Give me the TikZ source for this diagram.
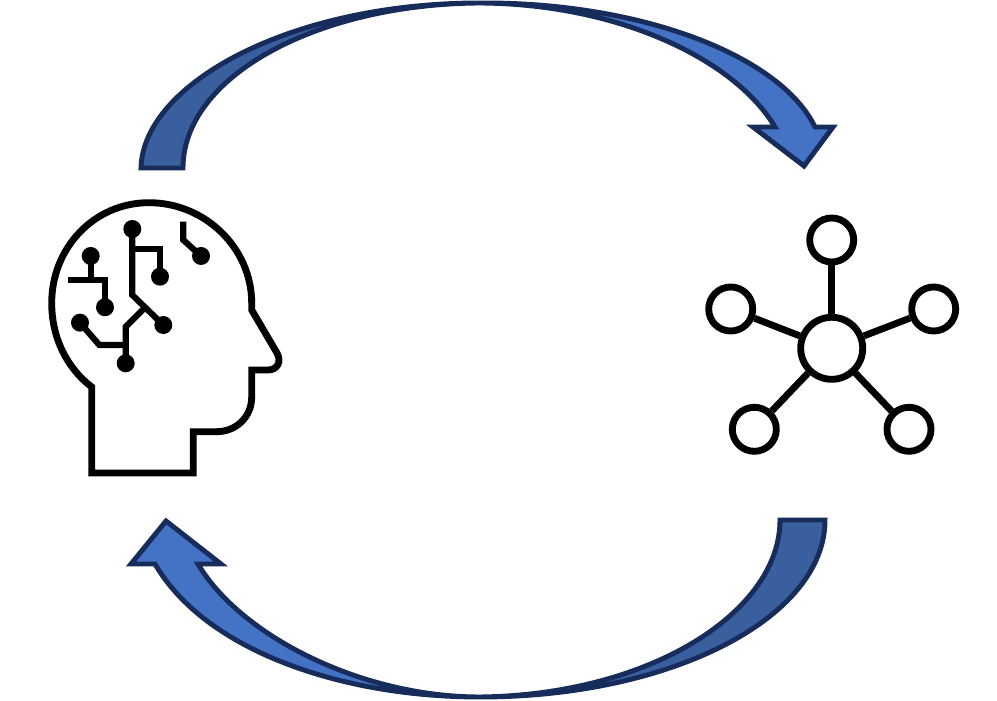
\documentclass[tikz,border=0pt]{standalone}
\usepackage{amsmath}
\usetikzlibrary{positioning,calc}

\definecolor{arrowdark}{HTML}{3A5F9F}
\definecolor{arrowlight}{HTML}{4472C4}
\definecolor{arrowline}{HTML}{172C5A}

\tikzset{
	chipdot/.style={circle,fill=black,inner sep=0pt,outer sep=-1pt,minimum size=0.18cm},
	hubnode/.style={circle,draw=black,line width=1.95pt,fill=white,inner sep=0pt,minimum size=0.62cm},
	leafnode/.style={circle,draw=black,line width=1.95pt,fill=white,inner sep=0pt,minimum size=0.44cm},
	trace/.style={draw=black,line width=1.75pt},
	darkarrow/.style={fill=arrowdark,draw=arrowline,line width=1.4pt,miter limit=10},
	lightarrow/.style={fill=arrowlight,draw=arrowline,line width=1.4pt,miter limit=10}
}

\begin{document}
\begin{tikzpicture}[x=0.01cm,y=-0.01cm]
	\useasboundingbox (0,0) rectangle (997,701);

	% top arrow
	\draw[darkarrow] (141,168) .. controls (143,84) and (290,3) .. (480,3)
		.. controls (316,4) and (183,77) .. (183,168) -- cycle;
	\draw[lightarrow] (480,3) .. controls (640,2) and (780,55) .. (815,127)
		-- (833,127) -- (804,166) -- (753,127) -- (775,127)
		.. controls (735,60) and (620,4) .. (480,3) -- cycle;

	% bottom arrow
	\draw[darkarrow] (825,520) .. controls (825,618) and (671,697) .. (480,697)
		.. controls (650,695) and (780,612) .. (780,520) -- cycle;
	\draw[lightarrow] (480,697) .. controls (340,697) and (205,650) .. (155,564)
		-- (131,564) -- (166,521) -- (221,564) -- (198,564)
		.. controls (240,635) and (360,697) .. (480,697) -- cycle;

	% head
	\draw[line width=1.95pt,line join=miter] (91.7,473) -- (91.7,387)
		.. controls (67,368) and (51.7,338) .. (51.7,303)
		.. controls (51.7,248) and (94,202.7) .. (149,202.7)
		.. controls (205,202.7) and (251.7,248) .. (251.7,303)
		-- (251.7,310) -- (277,353)
		.. controls (282,362) and (277,370) .. (268,370)
		-- (251.7,370) -- (251.7,397)
		.. controls (251.7,417) and (236,431.7) .. (216.7,431.7)
		-- (193.3,431.7) -- (193.3,473) -- cycle;

	% circuit
	\node[chipdot] (dotA) at (90.7,256) {};
	\node[chipdot] (dotB) at (105,307.3) {};
	\node[chipdot] (dotC) at (132.3,229) {};
	\node[chipdot] (dotD) at (160,276.7) {};
	\node[chipdot] (dotE) at (163.3,325) {};
	\node[chipdot] (dotF) at (80,322.7) {};
	\node[chipdot] (dotG) at (125.7,363.3) {};
	\node[chipdot] (dotH) at (201,256) {};
	\coordinate (stubA) at (68.3,280);
	\coordinate (jointA) at (90.7,280);
	\coordinate (bendC) at (132.3,295);
	\coordinate (jointC) at (132.3,249.3);
	\coordinate (jointE) at (143.3,309.3);
	\coordinate (bendG) at (125.7,326.7);
	\coordinate (bendF) at (99.3,345);
	\coordinate (stubH) at (183.3,221.7);
	\coordinate (bendH) at (183.3,240);
	\draw[trace] (dotA) -- (jointA);
	\draw[trace] (stubA) -| (dotB);
	\draw[trace] (dotC) -- (bendC) -- (dotE);
	\draw[trace] (jointC) -| (dotD);
	\draw[trace] (dotF) -- (bendF) -- (bendG |- bendF);
	\draw[trace] (dotG) -- (bendG) -- (jointE);
	\draw[trace] (stubH) -- (bendH) -- (dotH);

	% network
	\node[hubnode] (hub) at (831.7,348.3) {};
	\node[leafnode] (leafT) at (831.7,240) {};
	\node[leafnode] (leafL) at (730.7,309) {};
	\node[leafnode] (leafR) at (933.7,309) {};
	\node[leafnode] (leafSW) at (754.3,429.3) {};
	\node[leafnode] (leafSE) at (909,429.3) {};
	\foreach \leaf in {leafT,leafL,leafR,leafSW,leafSE}
		\draw[line width=1.95pt] (hub) -- (\leaf);
\end{tikzpicture}
\end{document}
